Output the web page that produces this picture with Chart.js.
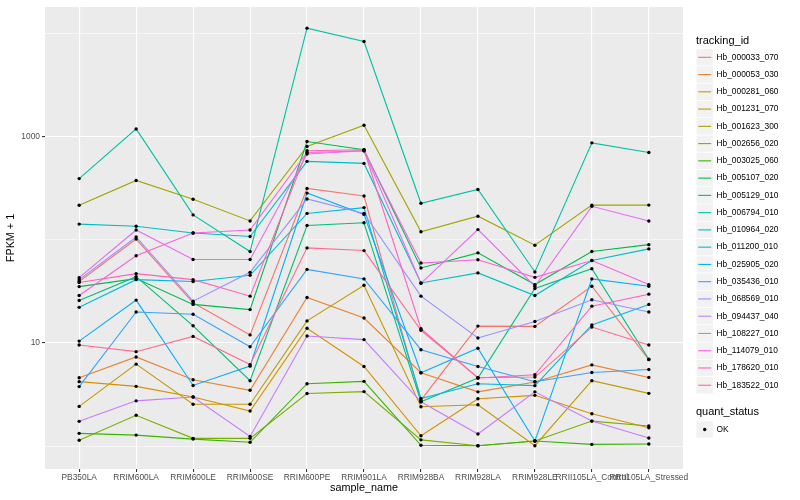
<!DOCTYPE html>
<html>
<head>
<meta charset="utf-8">
<script src="https://cdn.jsdelivr.net/npm/chart.js@4.4.1/dist/chart.umd.min.js"></script>
<style>
  html, body { margin: 0; padding: 0; background: #fff; }
</style>
</head>
<body>
<canvas id="chart" width="800" height="500"></canvas>
<script>
// categories on the x axis
const samples = ['PB350LA', 'RRIM600LA', 'RRIM600LE', 'RRIM600SE', 'RRIM600PE', 'RRIM901LA',
  'RRIM928BA', 'RRIM928LA', 'RRIM928LE', 'RRII105LA_Control', 'RRII105LA_Stressed'];

const trackingIds = ['Hb_000033_070', 'Hb_000053_030', 'Hb_000281_060', 'Hb_001231_070', 'Hb_001623_300',
  'Hb_002656_020', 'Hb_003025_060', 'Hb_005107_020', 'Hb_005129_010', 'Hb_006794_010',
  'Hb_010964_020', 'Hb_011200_010', 'Hb_025905_020', 'Hb_035436_010', 'Hb_068569_010',
  'Hb_094437_040', 'Hb_108227_010', 'Hb_114079_010', 'Hb_178620_010', 'Hb_183522_010'];

// FPKM + 1, one value per sample
const hb000033 = [39.5, 102, 24.6, 12.0, 316, 267, 2.79, 14.6, 14.5, 35.6, 6.9];
const hb000053 = [4.61, 7.33, 4.41, 3.48, 27.7, 17.5, 5.15, 3.36, 4.19, 6.14, 4.64];
const hb000281 = [4.22, 3.80, 3.00, 2.19, 13.9, 5.92, 1.26, 2.88, 3.11, 2.06, 1.51];
const hb001231 = [2.43, 6.24, 2.55, 2.55, 16.4, 36.4, 2.41, 2.52, 1.01, 4.31, 3.25];
const hb001623 = [217, 378, 248, 153, 807, 1296, 120, 170, 89, 218, 218];
const hb002656 = [1.14, 1.99, 1.19, 1.19, 3.24, 3.38, 1.15, 1.01, 1.12, 1.75, 1.57];
const hb003025 = [1.33, 1.28, 1.17, 1.09, 4.03, 4.25, 1.02, 1.01, 1.12, 1.04, 1.05];
const hb005107 = [35.3, 42.2, 23.7, 21.1, 901, 750, 53.5, 75, 36.9, 77.2, 90.1];
const hb005129 = [25.9, 44.1, 14.7, 4.31, 138, 147, 2.69, 4.58, 33.8, 52.6, 6.97];
const hb006794 = [394, 1194, 175, 77.2, 11350, 8430, 227, 309, 48.9, 875, 706];
const hb010964 = [142.6, 136, 117, 108, 579, 553, 38.3, 47.9, 28.9, 63.2, 81.9];
const hb011200 = [22.2, 41.2, 39.5, 45.4, 181, 206, 2.90, 4.03, 3.86, 15.0, 23.7];
const hb025905 = [10.45, 26.1, 3.88, 5.97, 285, 177, 5.15, 8.89, 1.12, 41.9, 35.6];
const hb035436 = [3.78, 20.0, 19.0, 9.21, 51.8, 41.9, 8.62, 5.92, 4.22, 5.18, 5.54];
const hb068569 = [41.2, 107, 25.5, 48.5, 250, 181, 28.5, 11.2, 16.2, 26.3, 20.0];
const hb094437 = [1.74, 2.75, 3.00, 1.24, 11.7, 10.8, 2.69, 1.31, 3.36, 1.75, 1.20];
const hb108227 = [43.1, 125, 64.6, 64.6, 682, 733, 38.0, 126, 35.6, 212, 153];
const hb114079 = [28.9, 70.2, 117, 125, 706, 733, 59.7, 64.2, 43.4, 63.2, 36.9];
const hb178620 = [38.6, 47.1, 41.2, 28.5, 733, 750, 13.8, 4.58, 4.92, 22.8, 29.8];
const hb183522 = [9.57, 8.25, 11.6, 6.18, 83.8, 78.9, 13.3, 4.61, 4.68, 14.3, 9.57];

const seriesValues = [hb000033, hb000053, hb000281, hb001231, hb001623, hb002656, hb003025,
  hb005107, hb005129, hb006794, hb010964, hb011200, hb025905, hb035436, hb068569,
  hb094437, hb108227, hb114079, hb178620, hb183522];

const yTicks = [1, 10, 100, 1000, 10000];
const yLabelled = [10, 1000];

// ggplot default hue palette for 20 levels
const palette = ['#F8766D', '#EA8331', '#D89000', '#C09B00', '#A3A500', '#7CAE00', '#39B600',
  '#00BB4E', '#00BF7D', '#00C1A3', '#00BFC4', '#00BAE0', '#00B0F6', '#35A2FF', '#9590FF',
  '#C77CFF', '#E76BF3', '#FA62DB', '#FF62BC', '#FF6C91'];

const FONT = "'Liberation Sans', Arial, sans-serif";
Chart.defaults.font.family = FONT;

const datasets = trackingIds.map((id, i) => ({
  label: id,
  data: seriesValues[i].map((v, j) => ({ x: j, y: v })),
  borderColor: palette[i],
  backgroundColor: palette[i],
  borderWidth: 1.1,
  pointRadius: 0,
  fill: false,
  tension: 0,
  order: 100 - i
}));

// all points on top, black (quant_status = OK)
datasets.push({
  type: 'scatter',
  label: 'OK',
  data: seriesValues.flatMap(s => s.map((v, j) => ({ x: j, y: v }))),
  pointRadius: 1.7,
  pointBackgroundColor: '#000',
  pointBorderWidth: 0,
  showLine: false,
  order: 0
});

const panelBg = {
  id: 'panelBg',
  beforeDraw(chart) {
    const a = chart.chartArea, c = chart.ctx;
    c.save();
    c.fillStyle = '#EBEBEB';
    c.fillRect(a.left, a.top, a.right - a.left, a.bottom - a.top);
    c.restore();
  }
};

const ggLegend = {
  id: 'ggLegend',
  afterDraw(chart) {
    const c = chart.ctx;
    c.save();
    c.textBaseline = 'middle';
    c.textAlign = 'left';
    c.fillStyle = '#000';
    c.font = '11px ' + FONT;
    c.fillText('tracking_id', 696, 40.5);
    trackingIds.forEach((id, i) => {
      const cy = 57.3 + i * 17.26;
      c.fillStyle = '#F2F2F2';
      c.fillRect(696.5, cy - 8.2, 16.4, 16.4);
      c.strokeStyle = palette[i];
      c.lineWidth = 1.1;
      c.beginPath();
      c.moveTo(698.2, cy);
      c.lineTo(711.2, cy);
      c.stroke();
      c.fillStyle = '#000';
      c.font = '8.4px ' + FONT;
      c.fillText(id, 716.5, cy);
    });
    c.font = '11px ' + FONT;
    c.fillText('quant_status', 696, 412.3);
    const ky = 429.5;
    c.fillStyle = '#F2F2F2';
    c.fillRect(696.5, ky - 8.2, 16.4, 16.4);
    c.fillStyle = '#000';
    c.beginPath();
    c.arc(704.7, ky, 1.7, 0, Math.PI * 2);
    c.fill();
    c.font = '8.4px ' + FONT;
    c.fillText('OK', 716.5, ky);
    c.restore();
  }
};

new Chart(document.getElementById('chart'), {
  type: 'line',
  data: { datasets },
  plugins: [panelBg, ggLegend],
  options: {
    responsive: false,
    animation: false,
    layout: { padding: { left: 0, top: 5, right: 117, bottom: 0 } },
    plugins: { legend: { display: false }, tooltip: { enabled: false } },
    scales: {
      x: {
        type: 'linear',
        min: -0.6,
        max: samples.length - 0.4,
        afterBuildTicks: s => { s.ticks = samples.map((_, i) => ({ value: i })); },
        afterFit: s => { s.height = 31; },
        ticks: {
          callback: v => samples[v],
          maxRotation: 0,
          minRotation: 0,
          autoSkip: false,
          color: '#4D4D4D',
          font: { size: 8.4 },
          padding: 1
        },
        grid: { color: '#FFFFFF', lineWidth: 1.1, tickColor: '#333333', tickLength: 3 },
        border: { display: false },
        title: { display: true, text: 'sample_name', color: '#000', font: { size: 10.8 }, padding: { top: 0, bottom: 5 } }
      },
      y: {
        type: 'logarithmic',
        min: 0.628,
        max: 18180,
        afterBuildTicks: s => { s.ticks = yTicks.map(v => ({ value: v })); },
        afterFit: s => { s.width = 45; },
        ticks: {
          callback: v => yLabelled.includes(v) ? String(v) : '',
          color: '#4D4D4D',
          font: { size: 8.4 },
          padding: 2
        },
        grid: {
          color: '#FFFFFF',
          lineWidth: ctx => yLabelled.includes(ctx.tick && ctx.tick.value) ? 1.1 : 0.55,
          tickColor: ctx => yLabelled.includes(ctx.tick && ctx.tick.value) ? '#333333' : 'rgba(0,0,0,0)',
          tickLength: 3
        },
        border: { display: false },
        title: { display: true, text: 'FPKM + 1', color: '#000', font: { size: 10.8 }, padding: { top: 5, bottom: 0 } }
      }
    }
  }
});
</script>
</body>
</html>
